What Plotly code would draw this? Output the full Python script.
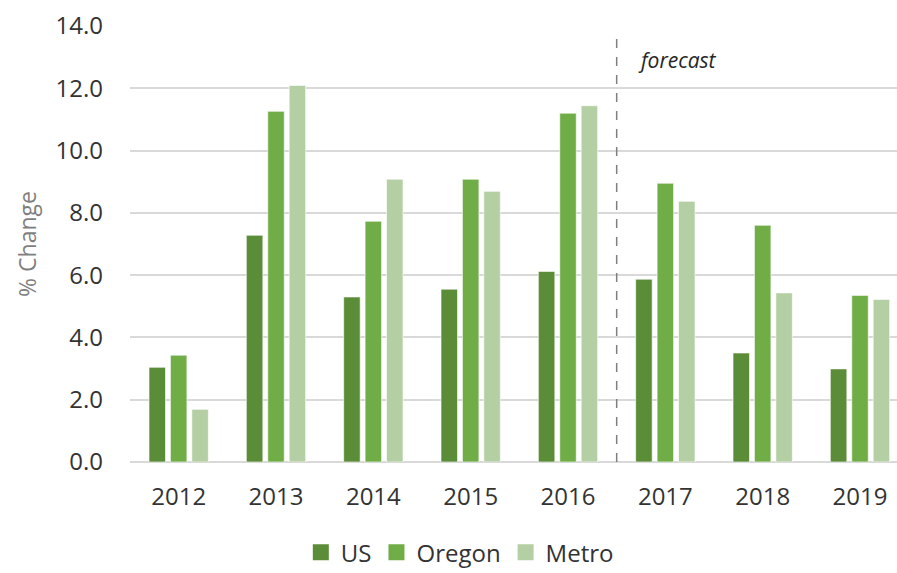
import plotly.graph_objects as go

# Annual % change, 2012-2019 (2017 onward is forecast)
years = ["2012", "2013", "2014", "2015", "2016", "2017", "2018", "2019"]
us = [3.04, 7.28, 5.30, 5.55, 6.12, 5.87, 3.50, 2.99]
oregon = [3.43, 11.26, 7.73, 9.08, 11.20, 8.95, 7.60, 5.35]
metro = [1.69, 12.09, 9.08, 8.69, 11.44, 8.37, 5.43, 5.22]

y_ticks = [0, 2, 4, 6, 8, 10, 12, 14]
y_tick_text = [f"{v:.1f}" for v in y_ticks]

series = [
    ("US", us, "#5b8c37"),
    ("Oregon", oregon, "#70ad47"),
    ("Metro", metro, "#b4cfa3"),
]

FONT = "Open Sans"
TEXT = "#333333"

fig = go.Figure()
for name, vals, color in series:
    fig.add_trace(go.Bar(
        x=years, y=vals, name=name, showlegend=False,
        marker=dict(color=color, line=dict(color="rgba(255,255,255,0.6)", width=1)),
    ))
# Legend entries drawn as larger square swatches
for name, vals, color in series:
    fig.add_trace(go.Scatter(
        x=[None], y=[None], mode="markers", name=name,
        marker=dict(symbol="square", size=17, color=color),
    ))

# Boundary between actuals and forecast
fig.add_shape(type="line", xref="x", yref="y", x0=4.5, x1=4.5, y0=0, y1=13.75,
              line=dict(color="#7f7f7f", width=1.5, dash="dash"))
fig.add_annotation(text="<i>forecast</i>", xref="x", yref="y", x=4.7, y=12.9,
                   xanchor="left", yanchor="middle", showarrow=False,
                   font=dict(family=FONT, size=21, color="#262626"))

fig.update_layout(
    width=897, height=573,
    margin=dict(l=130, r=0, t=26, b=111, autoexpand=False),
    paper_bgcolor="white", plot_bgcolor="white",
    barmode="group", bargap=0.34, bargroupgap=0.23,
    font=dict(family=FONT, size=24, color=TEXT),
    legend=dict(orientation="h", x=0.43, xanchor="center", y=-0.208, yanchor="middle",
                font=dict(family=FONT, size=24, color=TEXT),
                itemwidth=30, tracegroupgap=0),
    showlegend=True,
)
fig.update_xaxes(
    type="category", range=[-0.5, 7.38],
    showgrid=False, showline=False, zeroline=False,
    ticks="", ticklabelstandoff=18,
    tickfont=dict(family=FONT, size=24, color=TEXT),
)
fig.update_yaxes(
    range=[0, 14], tickvals=y_ticks, ticktext=y_tick_text,
    showgrid=True, gridcolor="#d9d9d9", gridwidth=1.5,
    zeroline=True, zerolinecolor="#d9d9d9", zerolinewidth=1.5,
    showline=False, ticks="", ticklabelstandoff=26,
    tickfont=dict(family=FONT, size=24, color=TEXT),
    title=dict(text="% Change", standoff=12,
               font=dict(family=FONT, size=23, color="#7f7f7f")),
)

fig.write_html("out.html")
